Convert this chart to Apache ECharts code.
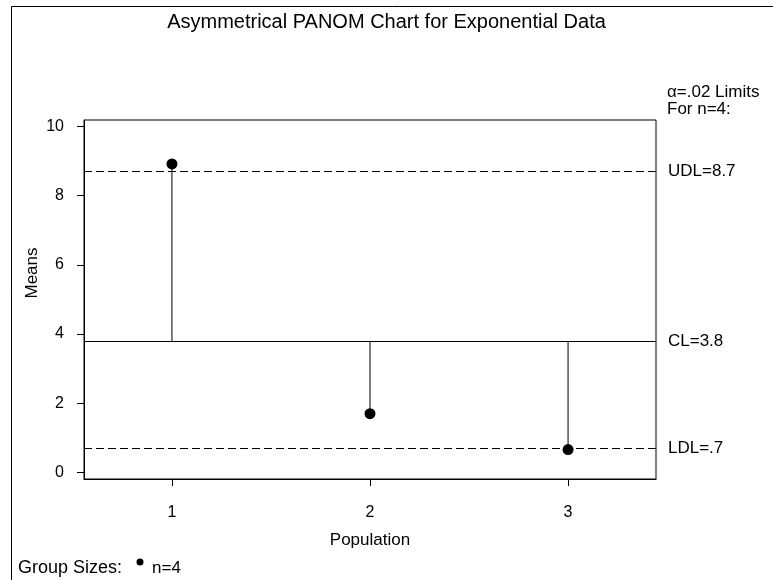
<!DOCTYPE html>
<html>
<head>
<meta charset="utf-8">
<script src="https://cdn.jsdelivr.net/npm/echarts@6/dist/echarts.min.js"></script>
<style>html,body{margin:0;padding:0;background:#fff}#c{width:773px;height:580px}</style>
</head>
<body>
<div id="c"></div>
<script>
// ---- data ----
var groups = [1, 2, 3];
var means = [8.92, 1.70, 0.66];
var udl = 8.7;
var cl = 3.8;
var ldl = 0.7;
var yTicks = [0, 2, 4, 6, 8, 10];
var title = 'Asymmetrical PANOM Chart for Exponential Data';
var groupSizeLabel = 'n=4';

var FONT = '"Liberation Sans", Arial, Helvetica, sans-serif';
var chart = echarts.init(document.getElementById('c'), null, {renderer: 'canvas'});

var pts = groups.map(function (g, i) { return [g, means[i]]; });

var option = {
  animation: false,
  backgroundColor: '#fff',
  textStyle: {fontFamily: FONT, color: '#000'},
  title: {
    text: title, left: 'center', top: 12, padding: [0, 0, 0, 14],
    textStyle: {fontFamily: FONT, fontSize: 20, fontWeight: 'normal', color: '#000'}
  },
  grid: {left: 84, right: 117, top: 120, bottom: 101, containLabel: false, outerBoundsMode: 'none',
         show: true, borderColor: '#000', borderWidth: 1, backgroundColor: 'transparent'},
  xAxis: {
    type: 'value', min: 0.556, max: 3.444,
    name: 'Population', nameLocation: 'middle', nameGap: 53,
    nameTextStyle: {fontFamily: FONT, fontSize: 17, color: '#000'},
    axisLine: {show: true, onZero: false, lineStyle: {color: '#000', width: 1}},
    axisTick: {show: true, length: 7, lineStyle: {color: '#000'}, customValues: groups},
    axisLabel: {fontFamily: FONT, fontSize: 16, color: '#000', margin: 26, customValues: groups},
    splitLine: {show: false}
  },
  yAxis: {
    type: 'value', min: -0.19, max: 10.19,
    axisLine: {show: true, onZero: false, lineStyle: {color: '#000', width: 1}},
    axisTick: {show: true, length: 7, lineStyle: {color: '#000'}, customValues: yTicks},
    axisLabel: {fontFamily: FONT, fontSize: 16, color: '#000', margin: 20, customValues: yTicks},
    splitLine: {show: false}
  },
  series: [
    {
      type: 'custom',
      silent: true,
      data: pts,
      renderItem: function (params, api) {
        var x = api.value(0), y = api.value(1);
        var p1 = api.coord([x, cl]);
        var p2 = api.coord([x, y]);
        return {type: 'line', shape: {x1: p1[0], y1: p1[1], x2: p2[0], y2: p2[1]},
                style: {stroke: '#000', lineWidth: 1}};
      },
      z: 1
    },
    {
      name: groupSizeLabel,
      type: 'scatter',
      data: pts,
      symbol: 'circle',
      symbolSize: 11,
      itemStyle: {color: '#000', opacity: 1},
      z: 5,
      markLine: {
        silent: true, symbol: 'none',
        label: {show: true, position: 'end', distance: 12, fontFamily: FONT, fontSize: 17, color: '#000'},
        data: [
          {yAxis: udl, lineStyle: {type: [8, 4], color: '#000', width: 1}, label: {formatter: 'UDL=' + udl}},
          {yAxis: cl, lineStyle: {type: 'solid', color: '#000', width: 1}, label: {formatter: 'CL=' + cl}},
          {yAxis: ldl, lineStyle: {type: [8, 4], color: '#000', width: 1}, label: {formatter: 'LDL=' + String(ldl).replace(/^0/, '')}}
        ]
      }
    }
  ],
  graphic: [
    {type: 'rect', shape: {x: 11.5, y: 6.5, width: 800, height: 600}, style: {fill: 'none', stroke: '#000', lineWidth: 1}, silent: true},
    {type: 'text', x: 32, y: 273, rotation: Math.PI / 2, style: {text: 'Means', font: '17px ' + FONT, fill: '#000', align: 'center', verticalAlign: 'middle'}},
    {type: 'text', x: 667, y: 92, style: {text: 'α=.02 Limits', font: '17px ' + FONT, fill: '#000', verticalAlign: 'middle'}},
    {type: 'text', x: 667, y: 109, style: {text: 'For n=4:', font: '17px ' + FONT, fill: '#000', verticalAlign: 'middle'}},
    {type: 'text', x: 18, y: 568, style: {text: 'Group Sizes:', font: '18px ' + FONT, fill: '#000', verticalAlign: 'middle'}},
    {type: 'circle', shape: {cx: 140, cy: 562, r: 3.5}, style: {fill: '#000'}},
    {type: 'text', x: 152, y: 568, style: {text: groupSizeLabel, font: '17px ' + FONT, fill: '#000', verticalAlign: 'middle'}}
  ]
};
chart.setOption(option);
</script>
</body>
</html>
